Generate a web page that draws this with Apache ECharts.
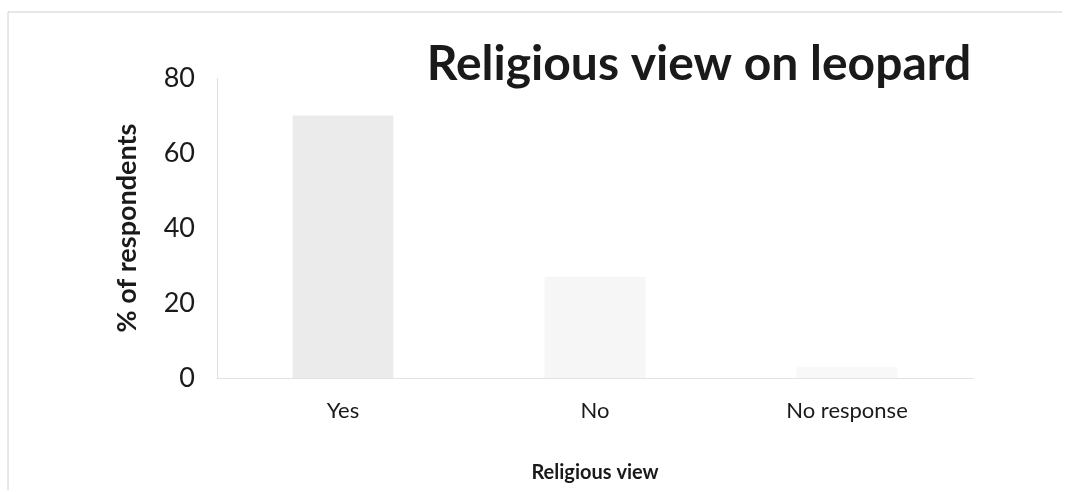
<!DOCTYPE html>
<html>
<head>
<meta charset="utf-8">
<script src="https://cdn.jsdelivr.net/npm/echarts@6/dist/echarts.min.js"></script>
<style>
html,body{margin:0;padding:0;background:#fff;}
#chart{width:1065px;height:492px;}
</style>
</head>
<body>
<div id="chart"></div>
<script>
const categories = ['Yes', 'No', 'No response'];
const values = [70, 27, 3];
const yTicks = [0, 20, 40, 60, 80];
const barColors = ['#ebebeb', '#f6f6f6', '#f8f8f8'];

const chart = echarts.init(document.getElementById('chart'));
chart.setOption({
  backgroundColor: '#ffffff',
  animation: false,
  title: {
    text: 'Religious view on leopard',
    left: 694, top: 36, textAlign: 'center',
    textStyle: {fontFamily: 'Lato', fontWeight: 'bold', fontSize: 48, color: '#1a1a1a'}
  },
  graphic: [{
    type: 'polyline',
    shape: {points: [[8, 490], [8, 12], [1062, 12]]},
    style: {stroke: '#d0d0d0', lineWidth: 1, fill: null}
  }],
  grid: {left: 217, right: 92, top: 78, bottom: 114},
  xAxis: {
    type: 'category',
    data: categories,
    name: 'Religious view',
    nameLocation: 'middle',
    nameGap: 85,
    nameTextStyle: {fontFamily: 'Lato', fontWeight: 'bold', fontSize: 20, color: '#1a1a1a'},
    axisLine: {lineStyle: {color: '#e2e2e2'}},
    axisTick: {show: false},
    axisLabel: {fontFamily: 'Lato', fontSize: 22, color: '#1a1a1a', margin: 22}
  },
  yAxis: {
    type: 'value',
    min: yTicks[0], max: yTicks[yTicks.length - 1], interval: 20,
    name: '% of respondents',
    nameLocation: 'middle',
    nameGap: 76,
    nameTextStyle: {fontFamily: 'Lato', fontWeight: 'bold', fontSize: 27, color: '#1a1a1a'},
    axisLine: {show: true, lineStyle: {color: '#d8d8d8', type: 'dotted'}},
    axisTick: {show: false},
    splitLine: {show: false},
    axisLabel: {fontFamily: 'Lato', fontSize: 27, color: '#1a1a1a', margin: 22}
  },
  series: [{
    type: 'bar',
    data: values.map((v, i) => ({value: v, itemStyle: {color: barColors[i]}})),
    barWidth: '40%'
  }]
});
</script>
</body>
</html>
